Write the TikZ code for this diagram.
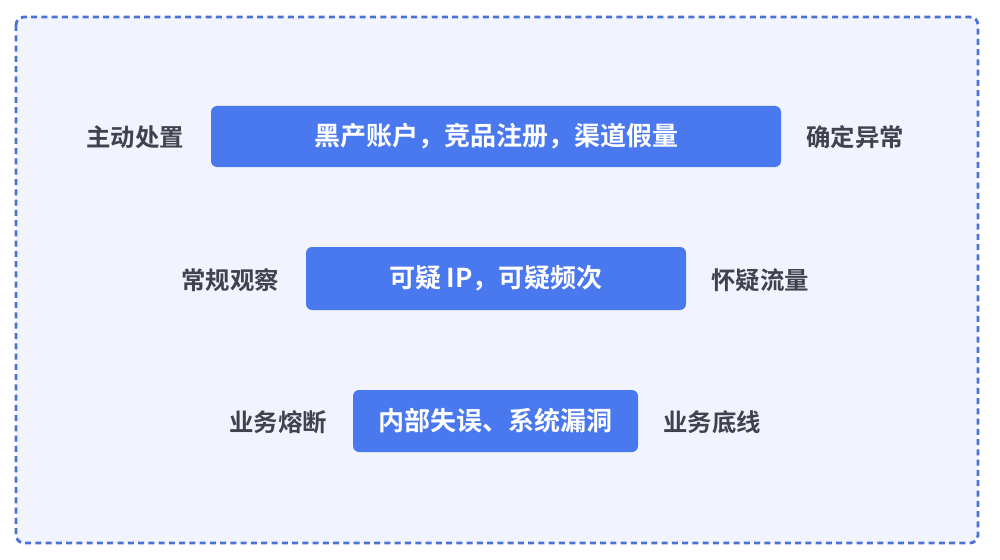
\documentclass[tikz,border=0pt]{standalone}
\usepackage{fontspec}
\newfontfamily\cjk{Noto Sans CJK SC}[BoldFont={* Bold}]
\definecolor{framec}{HTML}{4A72D6}
\definecolor{bgc}{HTML}{F1F4FD}
\definecolor{boxc}{HTML}{4A78EE}
\definecolor{labc}{HTML}{40434C}
\begin{document}
\begin{tikzpicture}[x=0.75pt,y=-0.75pt,
  bluebox/.style={fill=boxc,rounded corners=4.5pt,inner sep=0pt,text=white,font=\cjk\bfseries\fontsize{19.5}{21}\selectfont},
  sidelabel/.style={inner sep=0pt,text=labc,font=\cjk\bfseries\fontsize{18.3}{20}\selectfont}]
\useasboundingbox (0,0) rectangle (1000,560);
\fill[white] (0,0) rectangle (1000,560);
\draw[framec,fill=bgc,line width=2.1pt,dash pattern=on 4.5pt off 3.2pt,rounded corners=6pt] (16,17) rectangle (978,543);
\node[bluebox,minimum width=427.5pt,minimum height=45.75pt] (b1) at (496,136.5) {黑产账户，竞品注册，渠道假量};
\node[bluebox,minimum width=285pt,minimum height=47.25pt] (b2) at (496,278.5) {可疑 IP，可疑频次};
\node[bluebox,minimum width=213.75pt,minimum height=46.5pt] (b3) at (495.5,421) {内部失误、系统漏洞};
\node[sidelabel] (l1) at (135,137) {主动处置};
\node[sidelabel] (r1) at (855,137) {确定异常};
\node[sidelabel] (l2) at (230,280) {常规观察};
\node[sidelabel] (r2) at (760,280) {怀疑流量};
\node[sidelabel] (l3) at (278,422) {业务熔断};
\node[sidelabel] (r3) at (712,422) {业务底线};
\end{tikzpicture}
\end{document}
